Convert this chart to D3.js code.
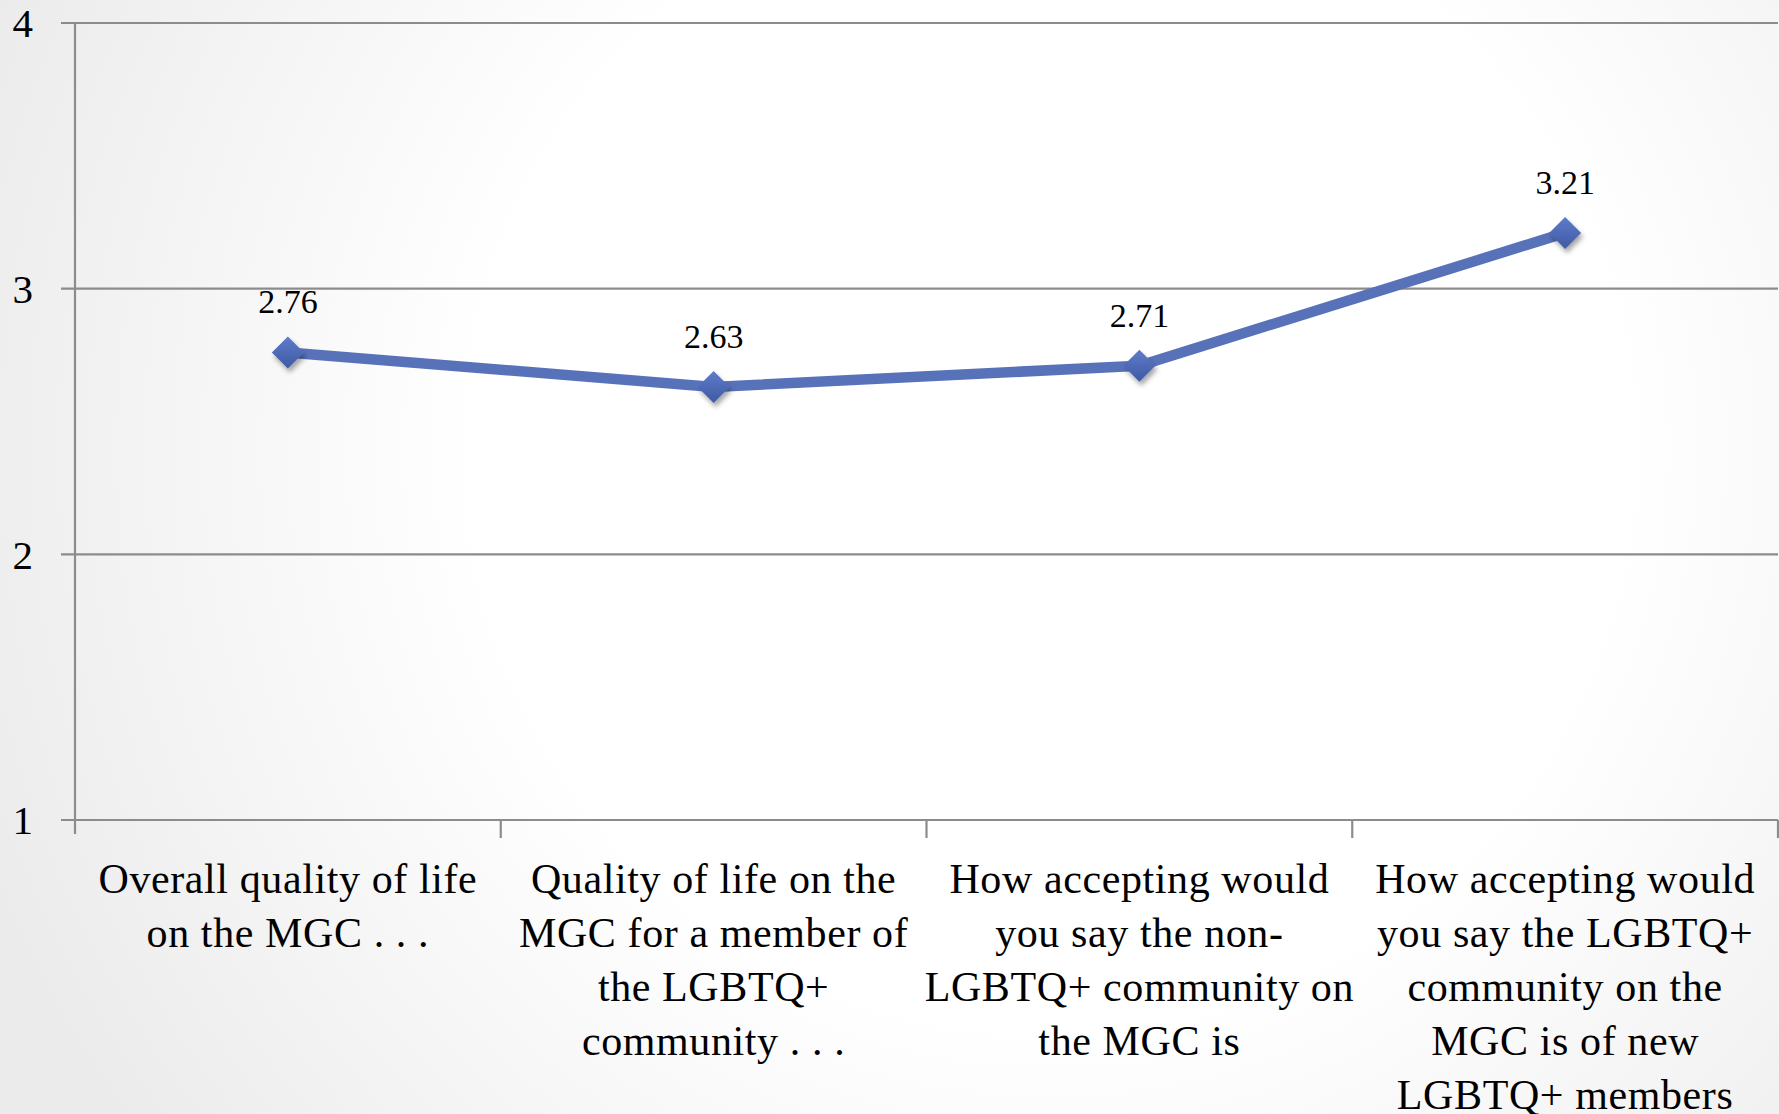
<!DOCTYPE html>
<html>
<head>
<meta charset="utf-8">
<script src="https://cdn.jsdelivr.net/npm/d3@7/dist/d3.min.js"></script>
<style>
  html, body { margin: 0; padding: 0; overflow: hidden; }
  svg { display: block; }
</style>
</head>
<body>
<script>
const categories = [
  "Overall quality of life on the MGC . . .",
  "Quality of life on the MGC for a member of the LGBTQ+ community . . .",
  "How accepting would you say the non-LGBTQ+ community on the MGC is",
  "How accepting would you say the LGBTQ+ community on the MGC is of new LGBTQ+ members"
];
const categoryLines = [
  ["Overall quality of life", "on the MGC . . ."],
  ["Quality of life on the", "MGC for a member of", "the LGBTQ+", "community . . ."],
  ["How accepting would", "you say the non-", "LGBTQ+ community on", "the MGC is"],
  ["How accepting would", "you say the LGBTQ+", "community on the", "MGC is of new", "LGBTQ+ members"]
];
const values = [2.76, 2.63, 2.71, 3.21];
const valueLabels = ["2.76", "2.63", "2.71", "3.21"];
const yTicks = [1, 2, 3, 4];

(function () {
const W = 1779, H = 1114;
const mLeft = 75, mRight = 1778, mTop = 23, mBottom = 820;
const FONT = "'Liberation Serif', 'Times New Roman', serif";

const svg = d3.select("body").append("svg").attr("width", W).attr("height", H);
const defs = svg.append("defs");

const bg = defs.append("radialGradient").attr("id", "bg")
  .attr("gradientUnits", "userSpaceOnUse")
  .attr("cx", 1050).attr("cy", 450).attr("r", 1150);
bg.append("stop").attr("offset", "0").attr("stop-color", "#ffffff");
bg.append("stop").attr("offset", "0.5").attr("stop-color", "#ffffff");
bg.append("stop").attr("offset", "1").attr("stop-color", "#ebebeb");

const mg = defs.append("linearGradient").attr("id", "mk").attr("x1", 0).attr("y1", 0).attr("x2", 0).attr("y2", 1);
mg.append("stop").attr("offset", "0").attr("stop-color", "#5f7bcb");
mg.append("stop").attr("offset", "1").attr("stop-color", "#3e5aa2");

const sh = defs.append("filter").attr("id", "sh").attr("x", "-50%").attr("y", "-50%").attr("width", "200%").attr("height", "200%");
sh.append("feDropShadow").attr("dx", 2).attr("dy", 4).attr("stdDeviation", 2.5)
  .attr("flood-color", "#000").attr("flood-opacity", 0.35);

svg.append("rect").attr("width", W).attr("height", H).attr("fill", "url(#bg)");

const x = d3.scaleBand().domain(categories).range([mLeft, mRight]).padding(0);
const y = d3.scaleLinear().domain([1, 4]).range([mBottom, mTop]);

const gridCol = "#8c8c8c";
svg.append("g").selectAll("line").data(yTicks).join("line")
  .attr("x1", mLeft - 14).attr("x2", mRight)
  .attr("y1", d => y(d)).attr("y2", d => y(d))
  .attr("stroke", gridCol).attr("stroke-width", 2.2);

svg.append("line").attr("x1", mLeft).attr("x2", mLeft)
  .attr("y1", y(4)).attr("y2", mBottom + 14)
  .attr("stroke", gridCol).attr("stroke-width", 2.2);

const edges = categories.map(c => x(c)).concat([x(categories[categories.length - 1]) + x.bandwidth()]);
svg.append("g").selectAll("line").data(edges.slice(1)).join("line")
  .attr("x1", d => d).attr("x2", d => d)
  .attr("y1", mBottom).attr("y2", mBottom + 18)
  .attr("stroke", gridCol).attr("stroke-width", 2.2);

svg.append("g").selectAll("text").data(yTicks).join("text")
  .attr("x", 33).attr("y", d => y(d)).attr("dy", "0.35em")
  .attr("text-anchor", "end")
  .attr("font-family", FONT).attr("font-size", 41).attr("fill", "#000")
  .text(d => d);

const cx = c => x(c) + x.bandwidth() / 2;
const labG = svg.append("g");
categories.forEach((c, i) => {
  const t = labG.append("text")
    .attr("text-anchor", "middle")
    .attr("font-family", FONT).attr("font-size", 42)
    .attr("letter-spacing", "0.6px")
    .attr("fill", "#000");
  categoryLines[i].forEach((ln, j) => {
    t.append("tspan").attr("x", cx(c)).attr("y", 893 + j * 54).text(ln);
  });
});

const data = categories.map((c, i) => ({ c, v: values[i], l: valueLabels[i] }));
const line = d3.line().x(d => cx(d.c)).y(d => y(d.v));
svg.append("path").datum(data).attr("d", line)
  .attr("fill", "none").attr("stroke", "#5872b9").attr("stroke-width", 10.5)
  .attr("stroke-linejoin", "round");

const mSize = 16;
svg.append("g").selectAll("path").data(data).join("path")
  .attr("d", d => {
    const px = cx(d.c), py = y(d.v);
    return `M${px},${py - mSize}L${px + mSize},${py}L${px},${py + mSize}L${px - mSize},${py}Z`;
  })
  .attr("fill", "url(#mk)").attr("filter", "url(#sh)");

svg.append("g").selectAll("text").data(data).join("text")
  .attr("x", d => cx(d.c)).attr("y", d => y(d.v) - 39)
  .attr("text-anchor", "middle")
  .attr("font-family", FONT).attr("font-size", 34).attr("fill", "#000")
  .text(d => d.l);
})();
</script>
</body>
</html>
